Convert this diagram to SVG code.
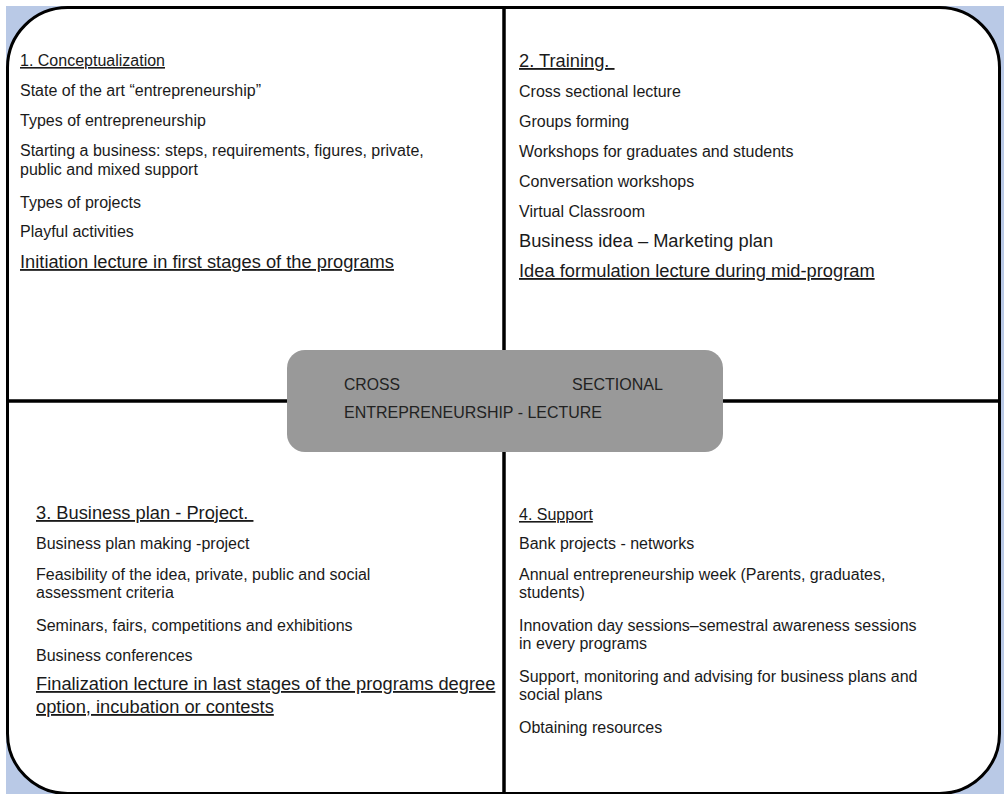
<svg xmlns="http://www.w3.org/2000/svg" width="1004" height="794" viewBox="0 0 1004 794">
<style>
text{font-family:"Liberation Sans",Arial,sans-serif;fill:#1a1a1a}
.s{font-size:16px}
.l{font-size:18.3px}
.u{text-decoration:underline}
.c{font-size:17px;fill:#222}
</style>
<rect x="0" y="0" width="1004" height="794" fill="#fff"/>
<rect x="6" y="6" width="998" height="788" fill="#b9c9e6"/>
<g id="frame">
<rect x="7.5" y="7.5" width="992" height="786" rx="60" ry="60" fill="#fff" stroke="#000" stroke-width="3"/>
</g>
<g id="connectors" stroke="#000" stroke-width="3.5">
<line x1="504" y1="7" x2="504" y2="794"/>
<line x1="7" y1="401" x2="1000" y2="401"/>
</g>
<g id="center">
<rect x="287" y="350" width="436" height="102" rx="18" ry="18" fill="#999"/>
<text class="c" x="344" y="390" textLength="56" lengthAdjust="spacingAndGlyphs">CROSS</text>
<text class="c" x="572" y="390" textLength="91" lengthAdjust="spacingAndGlyphs">SECTIONAL</text>
<text class="c" x="344" y="418" textLength="258" lengthAdjust="spacingAndGlyphs">ENTREPRENEURSHIP - LECTURE</text>
</g>
<g id="q1">
<text class="s u" x="20" y="66">1. Conceptualization</text>
<text class="s" x="20" y="96">State of the art “entrepreneurship”</text>
<text class="s" x="20" y="126">Types of entrepreneurship</text>
<text class="s" x="20" y="156">Starting a business: steps, requirements, figures, private,</text>
<text class="s" x="20" y="175">public and mixed support</text>
<text class="s" x="20" y="208">Types of projects</text>
<text class="s" x="20" y="237">Playful activities</text>
<text class="l u" x="20" y="268">Initiation lecture in first stages of the programs</text>
</g>
<g id="q2">
<text class="l u" x="519" y="67" xml:space="preserve">2. Training. </text>
<text class="s" x="519" y="97">Cross sectional lecture</text>
<text class="s" x="519" y="127">Groups forming</text>
<text class="s" x="519" y="157">Workshops for graduates and students</text>
<text class="s" x="519" y="187">Conversation workshops</text>
<text class="s" x="519" y="217">Virtual Classroom</text>
<text class="l" x="519" y="247">Business idea – Marketing plan</text>
<text class="l u" x="519" y="277">Idea formulation lecture during mid-program</text>
</g>
<g id="q3">
<text class="l u" x="36" y="519" xml:space="preserve">3. Business plan - Project. </text>
<text class="s" x="36" y="549">Business plan making -project</text>
<text class="s" x="36" y="580">Feasibility of the idea, private, public and social</text>
<text class="s" x="36" y="598">assessment criteria</text>
<text class="s" x="36" y="631">Seminars, fairs, competitions and exhibitions</text>
<text class="s" x="36" y="661">Business conferences</text>
<text class="l u" x="36" y="690">Finalization lecture in last stages of the programs degree</text>
<text class="l u" x="36" y="713">option, incubation or contests</text>
</g>
<g id="q4">
<text class="s u" x="519" y="520">4. Support</text>
<text class="s" x="519" y="549">Bank projects - networks</text>
<text class="s" x="519" y="580">Annual entrepreneurship week (Parents, graduates,</text>
<text class="s" x="519" y="598">students)</text>
<text class="s" x="519" y="631">Innovation day sessions–semestral awareness sessions</text>
<text class="s" x="519" y="649">in every programs</text>
<text class="s" x="519" y="682">Support, monitoring and advising for business plans and</text>
<text class="s" x="519" y="700">social plans</text>
<text class="s" x="519" y="733">Obtaining resources</text>
</g>
</svg>
